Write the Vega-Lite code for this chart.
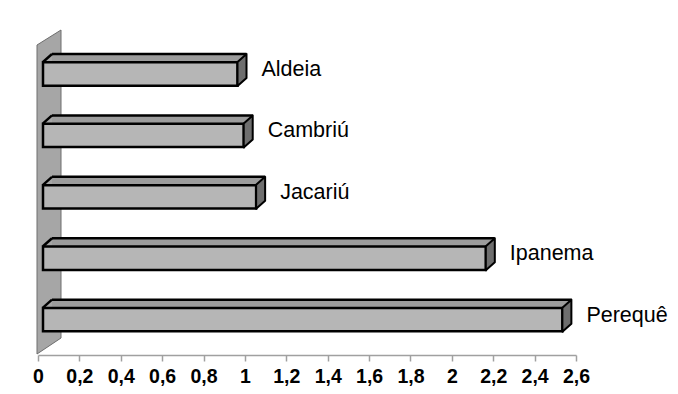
{
  "$schema": "https://vega.github.io/schema/vega-lite/v6.json",
  "width": 538,
  "height": 312,
  "autosize": {"type": "none"},
  "padding": {"left": 38, "top": 43, "right": 102, "bottom": 39},
  "background": "white",
  "config": {
    "view": {"stroke": null},
    "font": "Liberation Sans"
  },
  "data": {
    "values": [
      {"site": "Aldeia", "value": 0.94},
      {"site": "Cambriú", "value": 0.97},
      {"site": "Jacariú", "value": 1.03},
      {"site": "Ipanema", "value": 2.14},
      {"site": "Perequê", "value": 2.51}
    ]
  },
  "encoding": {
    "y": {
      "field": "site",
      "type": "nominal",
      "sort": null,
      "scale": {"paddingInner": 0.62, "paddingOuter": 0.35, "align": 0.45},
      "axis": null
    }
  },
  "layer": [
    {
      "data": {"values": [{"part": "wall"}]},
      "mark": {
        "type": "point",
        "shape": "M-1,-154L23,-169L23,139L-1,155Z",
        "size": 4,
        "filled": true,
        "fill": "#a6a6a6",
        "fillOpacity": 1,
        "stroke": "#6e6e6e",
        "strokeWidth": 1,
        "opacity": 1
      },
      "encoding": {
        "y": null,
        "x": {"datum": 0, "type": "quantitative"}
      }
    },
    {
      "mark": {"type": "bar", "fill": "#9c9c9c", "xOffset": 14, "x2Offset": 14, "yOffset": -8, "y2Offset": -8},
      "encoding": {
        "x": {
          "field": "value",
          "type": "quantitative",
          "scale": {"domain": [0, 2.6], "nice": false, "zero": true},
          "axis": {
            "values": [0, 0.2, 0.4, 0.6, 0.8, 1, 1.2, 1.4, 1.6, 1.8, 2, 2.2, 2.4, 2.6],
            "labelExpr": "replace(format(datum.value, '.1~f'), '.', ',')",
            "title": null,
            "grid": false,
            "domainColor": "#a0a0a0",
            "domainWidth": 1.5,
            "tickColor": "#a0a0a0",
            "tickWidth": 1.5,
            "tickSize": 6,
            "labelFont": "Liberation Sans",
            "labelFontWeight": "bold",
            "labelFontSize": 19.5,
            "labelColor": "#000000",
            "labelPadding": 6,
            "labelFlush": false,
            "labelOverlap": false
          }
        }
      }
    },
    {
      "mark": {"type": "rule", "stroke": "#000000", "strokeWidth": 2.5, "xOffset": 14, "x2Offset": 14, "yOffset": -20},
      "encoding": {
        "x": {"field": "value", "type": "quantitative"},
        "x2": {"datum": 0}
      }
    },
    {
      "mark": {"type": "bar", "fill": "#b6b6b6", "stroke": "#000000", "strokeWidth": 2.5, "xOffset": 5, "x2Offset": 5},
      "encoding": {
        "x": {"field": "value", "type": "quantitative"}
      }
    },
    {
      "mark": {
        "type": "point",
        "shape": "M5,-12L14,-20L14,4L5,12Z",
        "size": 4,
        "filled": true,
        "fill": "#6e6e6e",
        "fillOpacity": 1,
        "stroke": "#000000",
        "strokeWidth": 2,
        "strokeJoin": "round",
        "opacity": 1
      },
      "encoding": {
        "x": {"field": "value", "type": "quantitative"}
      }
    },
    {
      "mark": {
        "type": "point",
        "shape": "M5,-12L14,-20",
        "size": 4,
        "filled": false,
        "stroke": "#000000",
        "strokeWidth": 2.5,
        "opacity": 1
      },
      "encoding": {
        "x": {"datum": 0, "type": "quantitative"}
      }
    },
    {
      "mark": {"type": "text", "align": "left", "baseline": "middle", "dx": 29, "dy": -4, "fontSize": 21.5, "font": "Liberation Sans", "fill": "#000000"},
      "encoding": {
        "x": {"field": "value", "type": "quantitative"},
        "text": {"field": "site"}
      }
    }
  ]
}
